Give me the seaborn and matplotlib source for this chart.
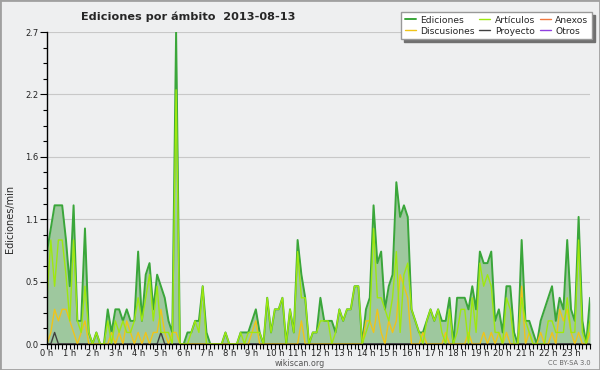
import matplotlib
matplotlib.use("Agg")
import matplotlib.pyplot as plt
import numpy as np
import pandas as pd
import seaborn as sns
from matplotlib.patches import Rectangle

# Edits per minute, one value per 10-minute slot (00:00 .. 23:50), 2013-08-13
ediciones = [
    0.8, 1.0, 1.2, 1.2, 1.2, 0.9,   0.5, 1.2, 0.2, 0.2, 1.0, 0.1,
    0.0, 0.1, 0.0, 0.0, 0.3, 0.1,   0.3, 0.3, 0.2, 0.3, 0.2, 0.2,
    0.8, 0.2, 0.6, 0.7, 0.3, 0.6,   0.5, 0.4, 0.2, 0.1, 2.7, 0.0,
    0.0, 0.1, 0.1, 0.2, 0.2, 0.5,   0.1, 0.0, 0.0, 0.0, 0.0, 0.1,
    0.0, 0.0, 0.0, 0.1, 0.1, 0.1,   0.2, 0.3, 0.1, 0.0, 0.4, 0.1,
    0.3, 0.3, 0.4, 0.0, 0.3, 0.1,   0.9, 0.6, 0.4, 0.0, 0.1, 0.1,
    0.4, 0.2, 0.2, 0.2, 0.1, 0.3,   0.2, 0.3, 0.3, 0.5, 0.5, 0.0,
    0.3, 0.4, 1.2, 0.7, 0.8, 0.3,   0.5, 0.6, 1.4, 1.1, 1.2, 1.1,
    0.3, 0.2, 0.1, 0.1, 0.2, 0.3,   0.2, 0.3, 0.2, 0.2, 0.4, 0.0,
    0.4, 0.4, 0.4, 0.3, 0.5, 0.3,   0.8, 0.7, 0.7, 0.8, 0.2, 0.3,
    0.1, 0.5, 0.5, 0.1, 0.0, 0.9,   0.2, 0.2, 0.1, 0.0, 0.2, 0.3,
    0.4, 0.5, 0.2, 0.4, 0.3, 0.9,   0.3, 0.2, 1.1, 0.2, 0.0, 0.4,
]
articulos = [
    0.4, 0.9, 0.5, 0.9, 0.9, 0.6,   0.2, 0.9, 0.2, 0.1, 0.5, 0.1,
    0.0, 0.1, 0.0, 0.0, 0.2, 0.0,   0.2, 0.1, 0.2, 0.1, 0.1, 0.2,
    0.4, 0.2, 0.4, 0.6, 0.2, 0.5,   0.1, 0.1, 0.1, 0.0, 2.2, 0.0,
    0.0, 0.0, 0.1, 0.2, 0.1, 0.5,   0.0, 0.0, 0.0, 0.0, 0.0, 0.1,
    0.0, 0.0, 0.0, 0.1, 0.0, 0.1,   0.1, 0.1, 0.1, 0.0, 0.4, 0.1,
    0.3, 0.3, 0.4, 0.0, 0.3, 0.1,   0.8, 0.4, 0.4, 0.0, 0.1, 0.1,
    0.2, 0.2, 0.2, 0.0, 0.1, 0.3,   0.2, 0.3, 0.3, 0.5, 0.5, 0.0,
    0.1, 0.2, 1.0, 0.4, 0.4, 0.3,   0.2, 0.4, 0.8, 0.1, 0.6, 0.7,
    0.3, 0.2, 0.1, 0.0, 0.2, 0.3,   0.2, 0.3, 0.1, 0.0, 0.3, 0.0,
    0.1, 0.3, 0.3, 0.0, 0.4, 0.1,   0.7, 0.5, 0.6, 0.5, 0.1, 0.1,
    0.0, 0.4, 0.3, 0.0, 0.0, 0.4,   0.2, 0.1, 0.0, 0.0, 0.0, 0.0,
    0.2, 0.2, 0.1, 0.1, 0.1, 0.4,   0.1, 0.1, 0.9, 0.1, 0.0, 0.2,
]
discusiones = [
    0.0, 0.1, 0.3, 0.2, 0.3, 0.3,   0.2, 0.1, 0.0, 0.1, 0.2, 0.0,
    0.0, 0.0, 0.0, 0.0, 0.0, 0.1,   0.0, 0.1, 0.0, 0.2, 0.1, 0.0,
    0.1, 0.0, 0.1, 0.0, 0.1, 0.1,   0.3, 0.1, 0.0, 0.1, 0.1, 0.0,
    0.0, 0.0, 0.0, 0.0, 0.0, 0.0,   0.0, 0.0, 0.0, 0.0, 0.0, 0.0,
    0.0, 0.0, 0.0, 0.0, 0.0, 0.0,   0.1, 0.2, 0.0, 0.0, 0.0, 0.0,
    0.0, 0.0, 0.0, 0.0, 0.0, 0.0,   0.0, 0.2, 0.0, 0.0, 0.0, 0.0,
    0.0, 0.0, 0.0, 0.0, 0.0, 0.0,   0.0, 0.0, 0.0, 0.0, 0.0, 0.0,
    0.2, 0.2, 0.1, 0.3, 0.1, 0.0,   0.2, 0.1, 0.2, 0.6, 0.5, 0.4,
    0.0, 0.0, 0.0, 0.1, 0.0, 0.0,   0.0, 0.0, 0.0, 0.1, 0.0, 0.0,
    0.0, 0.0, 0.0, 0.1, 0.0, 0.0,   0.0, 0.1, 0.0, 0.1, 0.0, 0.1,
    0.0, 0.1, 0.0, 0.0, 0.0, 0.5,   0.0, 0.1, 0.0, 0.0, 0.1, 0.0,
    0.0, 0.1, 0.0, 0.3, 0.2, 0.3,   0.1, 0.0, 0.1, 0.0, 0.0, 0.1,
]
proyecto = [0.0] * 144
proyecto[2] = 0.1
proyecto[30] = 0.1
anexos = [0.0] * 144
otros = [0.0] * 144

hour_labels = [f"{h} h" for h in range(24)]
y_tick_values = [0.0, 0.54, 1.08, 1.62, 2.16, 2.7]
y_tick_labels = ["0.0", "0.5", "1.1", "1.6", "2.2", "2.7"]

slots = np.arange(len(ediciones))
df = pd.DataFrame({
    "slot": slots,
    "Ediciones": ediciones,
    "Artículos": articulos,
    "Discusiones": discusiones,
    "Proyecto": proyecto,
    "Anexos": anexos,
    "Otros": otros,
})

bg = "#eeeff0"
sns.set_style("ticks", {"axes.facecolor": bg, "figure.facecolor": bg})
plt.rcParams["font.family"] = ["DejaVu Sans"]

fig = plt.figure(figsize=(6, 3.7), dpi=100)
ax = fig.add_axes([47 / 600, 1 - 344 / 370, 543 / 600, 312 / 370])

colors = {
    "Ediciones": "#3aa63a",
    "Artículos": "#9ee80f",
    "Anexos": "#f07840",
    "Discusiones": "#f0c418",
    "Proyecto": "#404040",
    "Otros": "#9040e0",
}

# filled total
ax.fill_between(df["slot"], df["Ediciones"], color="#9ec89e", lw=0, zorder=1)
sns.lineplot(data=df, x="slot", y="Ediciones", ax=ax, color=colors["Ediciones"],
             lw=1.4, zorder=3, label="Ediciones")
for name in ["Anexos", "Otros", "Proyecto", "Discusiones", "Artículos"]:
    sns.lineplot(data=df, x="slot", y=name, ax=ax, color=colors[name],
                 lw=1.0, zorder=4, label=name)

ax.set_xlim(0, 143)
ax.set_ylim(0, 2.7)
ax.set_xlabel("")
ax.set_ylabel("")

ax.set_yticks(y_tick_values)
ax.set_yticklabels(y_tick_labels)
ax.set_yticks(np.arange(0, 2.71, 0.135), minor=True)
ax.set_xticks(np.arange(0, 144, 6))
ax.set_xticklabels(hour_labels)
ax.set_xticks(np.arange(0, 144, 1), minor=True)

ax.tick_params(axis="both", which="major", labelsize=6, colors="black",
               labelcolor="#222222", width=0.8, length=5, pad=1)
ax.tick_params(axis="y", which="minor", length=3, width=0.8, colors="black")
ax.tick_params(axis="x", which="major", length=3.5, pad=0)
ax.tick_params(axis="x", which="minor", length=3.5, width=0.8, colors="black")
ax.grid(axis="y", which="major", color="#c8c8c8", lw=0.8, zorder=0)
ax.set_axisbelow(True)

sns.despine(ax=ax)
for side in ["left", "bottom"]:
    ax.spines[side].set_color("black")
    ax.spines[side].set_linewidth(1.0)
    ax.spines[side].set_zorder(5)

# legend: columns filled top-to-bottom
handles, labels = ax.get_legend_handles_labels()
lookup = dict(zip(labels, handles))
order = ["Ediciones", "Discusiones", "Artículos", "Proyecto", "Anexos", "Otros"]
ax.legend([lookup[k] for k in order], order, ncol=3, fontsize=6.6,
          loc="upper right", bbox_to_anchor=(592 / 600, 1 - 12 / 370),
          bbox_transform=fig.transFigure, frameon=True, fancybox=False,
          edgecolor="#999999", facecolor="white", framealpha=1,
          shadow={"ox": 2.2, "oy": -2.2, "color": "#707070", "alpha": 1},
          handlelength=1.2, handletextpad=0.5, columnspacing=0.5,
          labelspacing=0.2, borderpad=0.4, borderaxespad=0)

fig.text(188 / 600, 1 - 17 / 370, "Ediciones por ámbito  2013-08-13",
         ha="center", va="center", fontsize=8.1, fontweight="bold")
fig.text(10 / 600, 1 - 219 / 370, "Ediciones/min", rotation=90,
         ha="center", va="center", fontsize=7)
fig.text(300 / 600, 1 - 363 / 370, "wikiscan.org", ha="center", va="center",
         fontsize=5.8, color="#555555")
fig.text(569 / 600, 1 - 363 / 370, "CC BY-SA 3.0", ha="center", va="center",
         fontsize=4.8, color="#666666")

fig.patches.append(Rectangle((0, 0), 1, 1, transform=fig.transFigure,
                             fill=False, edgecolor="#a0a0a0", lw=2))

fig.savefig("out.png", dpi=100, facecolor=bg)
